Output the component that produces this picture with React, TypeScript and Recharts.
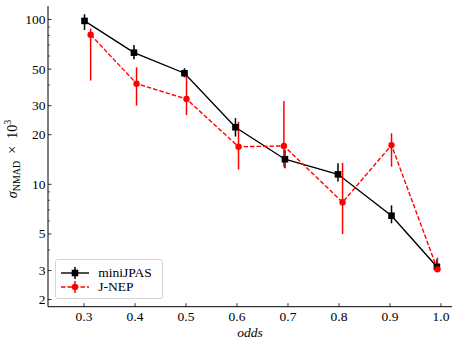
import React from 'react';
import { ComposedChart, Line, XAxis, YAxis, ErrorBar, Legend } from 'recharts';

// ---- data ----
const oddsMini = [0.301, 0.398, 0.497, 0.597, 0.694, 0.798, 0.903, 0.992];
const sigmaMini = [98, 62.9, 47.2, 22.2, 14.2, 11.5, 6.45, 3.16];
const miniLow = [86.4, 57.3, 44.6, 19.5, 12.5, 10.4, 5.8, 3.0];
const miniHigh = [107.6, 70, 50.6, 25.2, 16.2, 13.4, 7.45, 3.5];

const oddsJnep = [0.313, 0.403, 0.501, 0.603, 0.692, 0.807, 0.903, 0.993];
const sigmaJnep = [80.9, 40.8, 32.9, 16.9, 17.1, 7.78, 17.3, 3.05];
const jnepLow = [42.6, 30.0, 26.3, 12.3, 12.8, 4.99, 12.8, 2.97];
const jnepHigh = [88, 51.3, 48.2, 24.0, 32.0, 13.5, 20.4, 3.6];

const xTicks = [0.3, 0.4, 0.5, 0.6, 0.7, 0.8, 0.9, 1.0];
const yMajorTicks = [2, 3, 5, 10, 20, 30, 50, 100];
const yAllTicks = [2, 3, 4, 5, 6, 7, 8, 9, 10, 20, 30, 40, 50, 60, 70, 80, 90, 100];

const seriesNames = ['miniJPAS', 'J-NEP'];

const miniData = oddsMini.map((x, i) => ({
  x,
  y: sigmaMini[i],
  err: [sigmaMini[i] - miniLow[i], miniHigh[i] - sigmaMini[i]],
}));
const jnepData = oddsJnep.map((x, i) => ({
  x,
  y: sigmaJnep[i],
  err: [sigmaJnep[i] - jnepLow[i], jnepHigh[i] - sigmaJnep[i]],
}));

const FONT = "'Liberation Serif', 'Times New Roman', 'DejaVu Serif', serif";
const FS = 13.5;
const txtStyle: React.CSSProperties = { fontFamily: FONT, fontSize: FS };

const XTick = (props: any) => {
  const { x, y, payload } = props;
  return (
    <g>
      <line x1={x} x2={x} y1={y} y2={y - 3.5} stroke="#000" strokeWidth={0.8} />
      <text x={x} y={y + 14} textAnchor="middle" style={txtStyle} fill="#000">
        {Number(payload.value).toFixed(1)}
      </text>
    </g>
  );
};

const YTick = (props: any) => {
  const { x, y, payload } = props;
  const v = payload.value;
  const major = yMajorTicks.includes(v);
  return (
    <g>
      <line x1={x} x2={x + (major ? 3.5 : 2)} y1={y} y2={y} stroke="#000" strokeWidth={major ? 0.8 : 0.6} />
      {major && (
        <text x={x - 2.5} y={y + 4.5} textAnchor="end" style={txtStyle} fill="#000">
          {v}
        </text>
      )}
    </g>
  );
};

const SquareDot = (props: any) => {
  const { cx, cy, index } = props;
  if (cx == null || cy == null) return <g key={`s${index}`} />;
  return <rect key={`s${index}`} x={cx - 3.3} y={cy - 3.3} width={6.6} height={6.6} fill="#000" />;
};

const LegendBox = () => (
  <div
    style={{
      width: 108,
      height: 40,
      border: '1px solid #d4d4d4',
      borderRadius: 3,
      background: 'rgba(255,255,255,0.8)',
      boxSizing: 'border-box',
      position: 'relative',
      fontFamily: FONT,
      fontSize: FS,
    }}
  >
    {[0, 1].map((i) => {
      const cy = i === 0 ? 13 : 27;
      const color = i === 0 ? '#000' : '#ff0000';
      return (
        <React.Fragment key={i}>
          <svg
            width={30}
            height={16}
            style={{ position: 'absolute', left: 3.5, top: cy - 8 }}
          >
            <line
              x1={1}
              x2={29}
              y1={8}
              y2={8}
              stroke={color}
              strokeWidth={1.4}
              strokeDasharray={i === 1 ? '4.5 2' : undefined}
            />
            <line x1={15} x2={15} y1={2} y2={14} stroke={color} strokeWidth={1.5} />
            {i === 0 ? (
              <rect x={11.7} y={4.7} width={6.6} height={6.6} fill={color} />
            ) : (
              <circle cx={15} cy={8} r={3.2} fill={color} />
            )}
          </svg>
          <div
            style={{
              position: 'absolute',
              left: 42,
              top: cy - 8,
              lineHeight: '16px',
              color: '#000',
              whiteSpace: 'nowrap',
            }}
          >
            {seriesNames[i]}
          </div>
        </React.Fragment>
      );
    })}
  </div>
);

const XLabel = (props: any) => {
  const { viewBox } = props;
  const cx = viewBox.x + viewBox.width / 2;
  return (
    <text x={cx} y={336.5} textAnchor="middle" style={{ ...txtStyle, fontStyle: 'italic' }} fill="#000">
      odds
    </text>
  );
};

const YLabel = () => (
  <text
    transform="translate(16.5,159) rotate(-90)"
    textAnchor="middle"
    style={{ ...txtStyle, fontSize: 14, whiteSpace: 'pre' }}
    fill="#000"
  >
    <tspan style={{ fontStyle: 'italic' }}>σ</tspan>
    <tspan style={{ fontSize: 10 }} dy={3}>NMAD</tspan>
    <tspan dy={-3}>{'  ×  10'}</tspan>
    <tspan style={{ fontSize: 10 }} dy={-5.5}>3</tspan>
  </text>
);

export default function App() {
  return (
    <div style={{ position: 'absolute', left: 0, top: 0, background: '#fff' }}>
      <ComposedChart width={458} height={346} margin={{ top: 6, right: 6, bottom: 0, left: 0 }}>
        <XAxis
          xAxisId={0}
          type="number"
          dataKey="x"
          domain={[0.2294, 1.0216]}
          allowDataOverflow
          ticks={xTicks}
          interval={0}
          tickLine={false}
          tickSize={0}
          tickMargin={0}
          tick={<XTick />}
          height={39.3}
          axisLine={{ stroke: '#000', strokeWidth: 1 }}
          label={<XLabel />}
        />
        <XAxis
          xAxisId="top"
          orientation="top"
          type="number"
          domain={[0.2294, 1.0216]}
          allowDataOverflow
          tick={false}
          tickLine={false}
          height={0}
          axisLine={{ stroke: '#000', strokeWidth: 1 }}
        />
        <YAxis
          yAxisId={0}
          scale="log"
          type="number"
          domain={[1.81, 120.7]}
          allowDataOverflow
          ticks={yAllTicks}
          interval={0}
          tickLine={false}
          tickSize={0}
          tickMargin={0}
          tick={<YTick />}
          width={48}
          axisLine={{ stroke: '#000', strokeWidth: 1 }}
          label={<YLabel />}
        />
        <YAxis
          yAxisId="right"
          orientation="right"
          type="number"
          domain={[0, 1]}
          tick={false}
          tickLine={false}
          width={0}
          axisLine={{ stroke: '#000', strokeWidth: 1 }}
        />
        <Legend
          layout="horizontal"
          verticalAlign="middle"
          align="center"
          wrapperStyle={{ left: 55.3, top: 259.3, width: 108, height: 40 }}
          content={() => <LegendBox />}
        />
        <Line
          data={miniData}
          dataKey="y"
          name={seriesNames[0]}
          xAxisId={0}
          yAxisId={0}
          stroke="#000"
          strokeWidth={1.4}
          dot={SquareDot}
          activeDot={false}
          isAnimationActive={false}
        >
          <ErrorBar dataKey="err" direction="y" width={0} stroke="#000" strokeWidth={1.5} isAnimationActive={false} />
        </Line>
        <Line
          data={jnepData}
          dataKey="y"
          name={seriesNames[1]}
          xAxisId={0}
          yAxisId={0}
          stroke="#ff0000"
          strokeWidth={1.4}
          strokeDasharray="4.5 2"
          dot={{ r: 3.2, fill: '#ff0000', stroke: 'none' }}
          activeDot={false}
          isAnimationActive={false}
        >
          <ErrorBar dataKey="err" direction="y" width={0} stroke="#ff0000" strokeWidth={1.5} isAnimationActive={false} />
        </Line>
      </ComposedChart>
    </div>
  );
}
